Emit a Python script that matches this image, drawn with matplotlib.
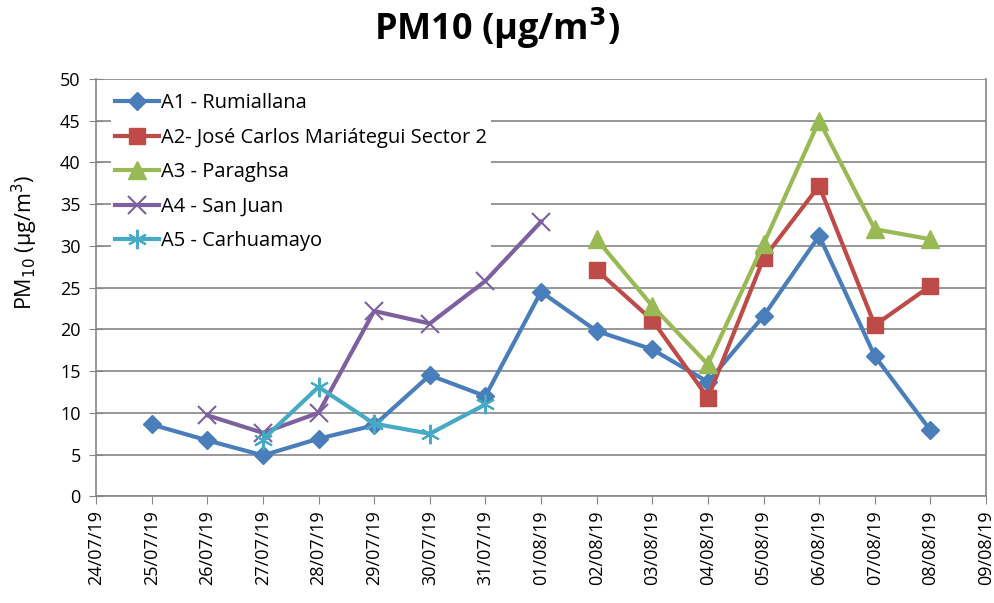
import numpy as np
import matplotlib
matplotlib.use("Agg")
import matplotlib.pyplot as plt

plt.rcParams['font.family'] = ['Open Sans', 'DejaVu Sans']

# fechas del eje x
fechas = ['24/07/19', '25/07/19', '26/07/19', '27/07/19', '28/07/19', '29/07/19',
          '30/07/19', '31/07/19', '01/08/19', '02/08/19', '03/08/19', '04/08/19',
          '05/08/19', '06/08/19', '07/08/19', '08/08/19', '09/08/19']

nan = np.nan
# PM10 por estacion (ug/m3)
a1 = [nan, 8.6, 6.7, 4.9, 6.9, 8.5, 14.5, 12.0, 24.5, 19.8, 17.6, 13.7, 21.6, 31.2, 16.8, 7.9, nan]
a2 = [nan, nan, nan, nan, nan, nan, nan, nan, nan, 27.1, 21.1, 11.8, 28.5, 37.2, 20.5, 25.2, nan]
a3 = [nan, nan, nan, nan, nan, nan, nan, nan, nan, 30.8, 22.8, 15.8, 30.2, 45.0, 32.0, 30.8, nan]
a4 = [nan, nan, 9.7, 7.6, 10.0, 22.2, 20.7, 25.8, 32.9, nan, nan, nan, nan, nan, nan, nan, nan]
a5 = [nan, nan, nan, 6.8, 13.1, 8.7, 7.5, 11.0, nan, nan, nan, nan, nan, nan, nan, nan, nan]

nombres = ['A1 - Rumiallana', 'A2- José Carlos Mariátegui Sector 2', 'A3 - Paraghsa',
           'A4 - San Juan', 'A5 - Carhuamayo']

fig = plt.figure(figsize=(9.95, 6.03), dpi=100)
ax = fig.add_axes([0.0965, 0.177, 0.8945, 0.692])

x = np.arange(len(fechas))
ax.plot(x, a1, color='#4A7EBB', lw=3, marker='D', ms=9, label=nombres[0])
ax.plot(x, a2, color='#BE4B48', lw=3, marker='s', ms=12, label=nombres[1])
ax.plot(x, a3, color='#98B954', lw=3, marker='^', ms=13, label=nombres[2])
ax.plot(x, a4, color='#7D60A0', lw=3, marker='x', ms=13, mew=1.5, label=nombres[3])
ax.plot(x, a5, color='#46AAC5', lw=3, marker=(6, 2, 0), ms=14, mew=1.5, label=nombres[4])

ax.set_xlim(0, 16)
ax.set_ylim(0, 50)
ax.set_yticks(np.arange(0, 51, 5))
ax.set_xticks(x)
ax.set_xticklabels(fechas, rotation=90, fontsize=13)
ax.tick_params(axis='y', labelsize=13, direction='inout', length=10, color='#868686', pad=6)
ax.tick_params(axis='x', direction='out', length=6, color='#868686', pad=4)

ax.grid(axis='y', color='#868686', lw=1.2)
ax.set_axisbelow(True)
for s in ['left', 'right', 'bottom']:
    ax.spines[s].set_color('#868686')
    ax.spines[s].set_linewidth(1.2)
ax.spines['top'].set_visible(False)

ax.set_ylabel('PM$_{10}$ (µg/m$^3$)', fontsize=15.5)
ax.yaxis.set_label_coords(-0.063, 0.607)
fig.text(0.5, 0.953, 'PM10 (µg/m$^\\mathbf{3}$)', ha='center', va='center',
         fontsize=26, fontweight='bold')

leg = ax.legend(loc='upper left', bbox_to_anchor=(0.012, 0.985), frameon=True,
                fontsize=14.5, handlelength=2.2, handletextpad=0.1, labelspacing=0.72,
                borderaxespad=0.2, borderpad=0.2)
leg.get_frame().set_facecolor('white')
leg.get_frame().set_edgecolor('none')
leg.get_frame().set_alpha(1)

fig.savefig('out.png', dpi=100)
